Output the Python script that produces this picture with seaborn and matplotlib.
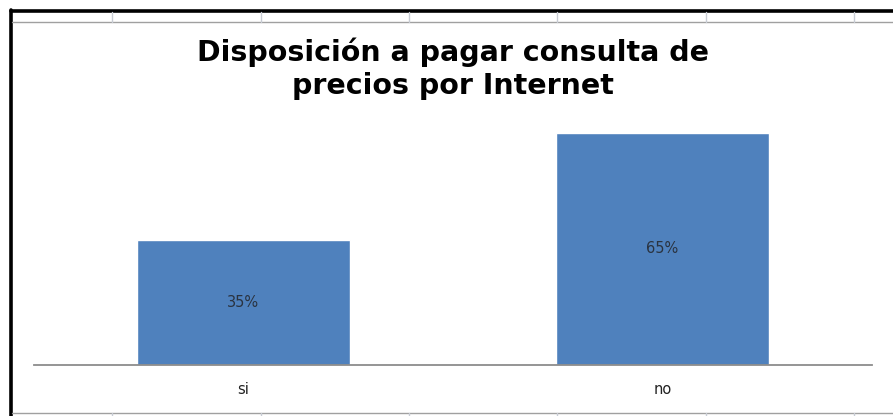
import matplotlib
matplotlib.use("Agg")
import matplotlib.pyplot as plt
import seaborn as sns
import pandas as pd
from matplotlib.lines import Line2D

sns.set_theme(style="white")
plt.rcParams["font.family"] = ["DejaVu Sans"]

# data
categories = ["si", "no"]
shares = [0.35, 0.65]
value_labels = ["35%", "65%"]

title = "Disposición a pagar consulta de\nprecios por Internet"
bar_color = "#4F81BD"

df = pd.DataFrame({"respuesta": categories, "share": shares})

fig = plt.figure(figsize=(8.93, 4.16), dpi=100)
ax = fig.add_axes([34 / 893, 51 / 416, 838 / 893, 250 / 416])

sns.barplot(data=df, x="respuesta", y="share", color=bar_color,
            width=0.51, saturation=1, ax=ax)

ax.set_xlim(-0.5, 1.5)
ax.set_ylim(0, 0.70)
ax.set_xlabel("")
ax.set_ylabel("")
ax.set_yticks([])
ax.tick_params(axis="x", length=0, pad=12, labelsize=10.5, labelcolor="#222222")
for side in ["top", "right", "left"]:
    ax.spines[side].set_visible(False)
ax.spines["bottom"].set_color("#8c8c8c")
ax.spines["bottom"].set_linewidth(1.3)

for patch, lab in zip(ax.patches, value_labels):
    ax.text(patch.get_x() + patch.get_width() / 2, patch.get_height() / 2, lab,
            ha="center", va="center", fontsize=10.5, color="#2a3340")

fig.text(0.507, 0.835, title, ha="center", va="center", fontsize=20.5,
         fontweight="bold", color="black", linespacing=1.2)

# spreadsheet frame around the pasted chart
W, H = 893, 416
def fl(x0, y0, x1, y1, c, lw):
    fig.add_artist(Line2D([x0 / W, x1 / W], [1 - y0 / H, 1 - y1 / H],
                          color=c, lw=lw, transform=fig.transFigure))

fl(11, 10.5, W, 10.5, "black", 2.6)
fl(11, 10, 11, H, "black", 2.6)
fl(12, 22, W, 22, "#a0a0a0", 1.0)
fl(12, 413, W, 413, "#a0a0a0", 1.0)
for cx in [112, 261, 409, 557, 706, 854]:
    fl(cx, 12, cx, 22, "#c8ccd4", 1.0)
    fl(cx, 413, cx, H, "#c8ccd4", 1.0)

fig.savefig("out.png", dpi=100)
